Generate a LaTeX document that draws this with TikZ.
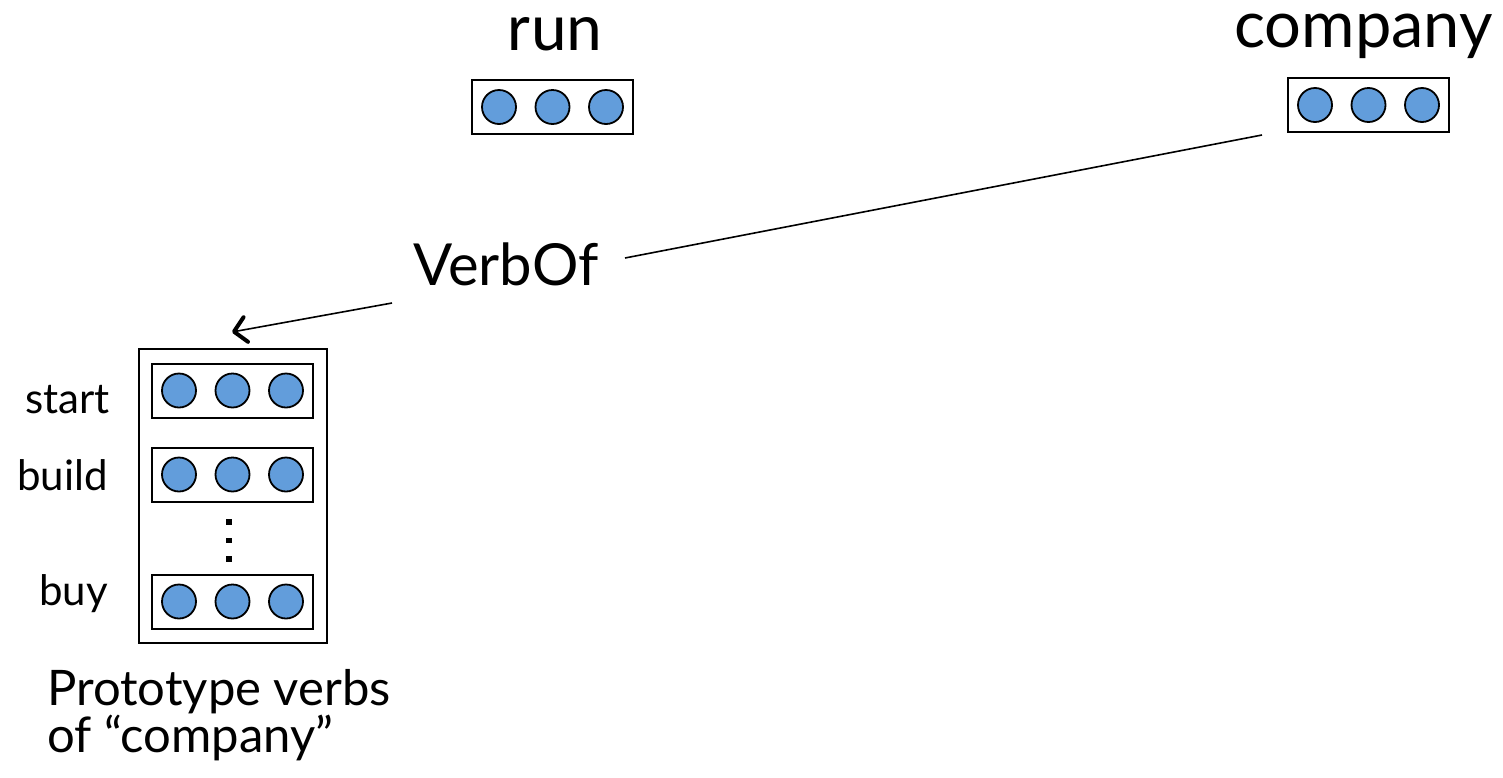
\documentclass[tikz,border=0pt]{standalone}
\usepackage{fontspec}
\setmainfont{Lato}
\newfontfamily\runfont{Carlito}
\usetikzlibrary{arrows.meta}
\definecolor{dotblue}{RGB}{98,157,219}
\begin{document}
\begin{tikzpicture}[x=1pt,y=-1pt,
  vecbox/.style={draw, line width=2pt, minimum width=161pt, minimum height=54pt, inner sep=0pt},
  outerbox/.style={draw, line width=2pt, minimum width=188pt, minimum height=294pt, inner sep=0pt},
  unit/.style={circle, draw, line width=1.8pt, fill=dotblue, minimum size=34pt, inner sep=0pt},
  vdot/.style={fill=black, minimum size=5.5pt, inner sep=0pt},
  bigword/.style={font=\fontsize{65}{70}\selectfont, inner sep=0pt, anchor=base, text height=0.55em},
  rowlabel/.style={font=\fontsize{42}{46}\selectfont, inner sep=0pt, anchor=base east},
  caption/.style={font=\fontsize{49}{40}\selectfont, inner sep=0pt, align=left},
  link/.style={line width=1.6pt},
  arrowlink/.style={line width=1.6pt, -{Straight Barb[length=12pt,width=25pt,line width=4pt 0 0,round]}}
]
\useasboundingbox[fill=white] (0,0) rectangle (1503,777);

% run
\node[font=\runfont\fontsize{68}{72}\selectfont, inner sep=0pt, anchor=base] (runlabel) at (555,50) {run};
\node[vecbox] (runbox) at (552.5,107) {};
\foreach \i/\dx in {1/-53.5,2/0,3/53.5}
  \node[unit] (run\i) at ([xshift=\dx pt]runbox.center) {};

% company
\node[bigword] (complabel) at (1363.5,47) {company};
\node[vecbox] (compbox) at (1368.5,105) {};
\foreach \i/\dx in {1/-53.5,2/0,3/53.5}
  \node[unit] (comp\i) at ([xshift=\dx pt]compbox.center) {};

% VerbOf
\node[font=\fontsize{58}{62}\selectfont, inner sep=0pt, anchor=base] (verbof) at (506,285) {VerbOf};

% prototype matrix
\node[outerbox] (matrix) at (233,496) {};
\node[vecbox] (rowA) at (232.5,390.5) {};
\node[vecbox] (rowB) at (232.5,474.5) {};
\node[vecbox] (rowC) at (232.5,601.5) {};
\foreach \r in {A,B,C}
  \foreach \i/\dx in {1/-53.5,2/0,3/53.5}
    \node[unit] (u\r\i) at ([xshift=\dx pt]row\r.center) {};
\node[vdot] (d1) at (229,522) {};
\node[vdot] (d2) at (229,540.5) {};
\node[vdot] (d3) at (229,559) {};

\node[rowlabel] (lstart) at (110,413) {start};
\node[rowlabel] (lbuild) at (108,490) {build};
\node[rowlabel] (lbuy) at (108,605) {buy};

\node[caption, anchor=north west] (cap) at (47,669) {Prototype verbs\\of “company”};

% connectors
\coordinate (cA) at (1262,135);
\coordinate (vB) at (625,258);
\coordinate (vC) at (392,303);
\coordinate (mT) at (232,332);
\draw[link] (cA) -- (vB);
\draw[arrowlink] (vC) -- (mT);
\end{tikzpicture}
\end{document}
